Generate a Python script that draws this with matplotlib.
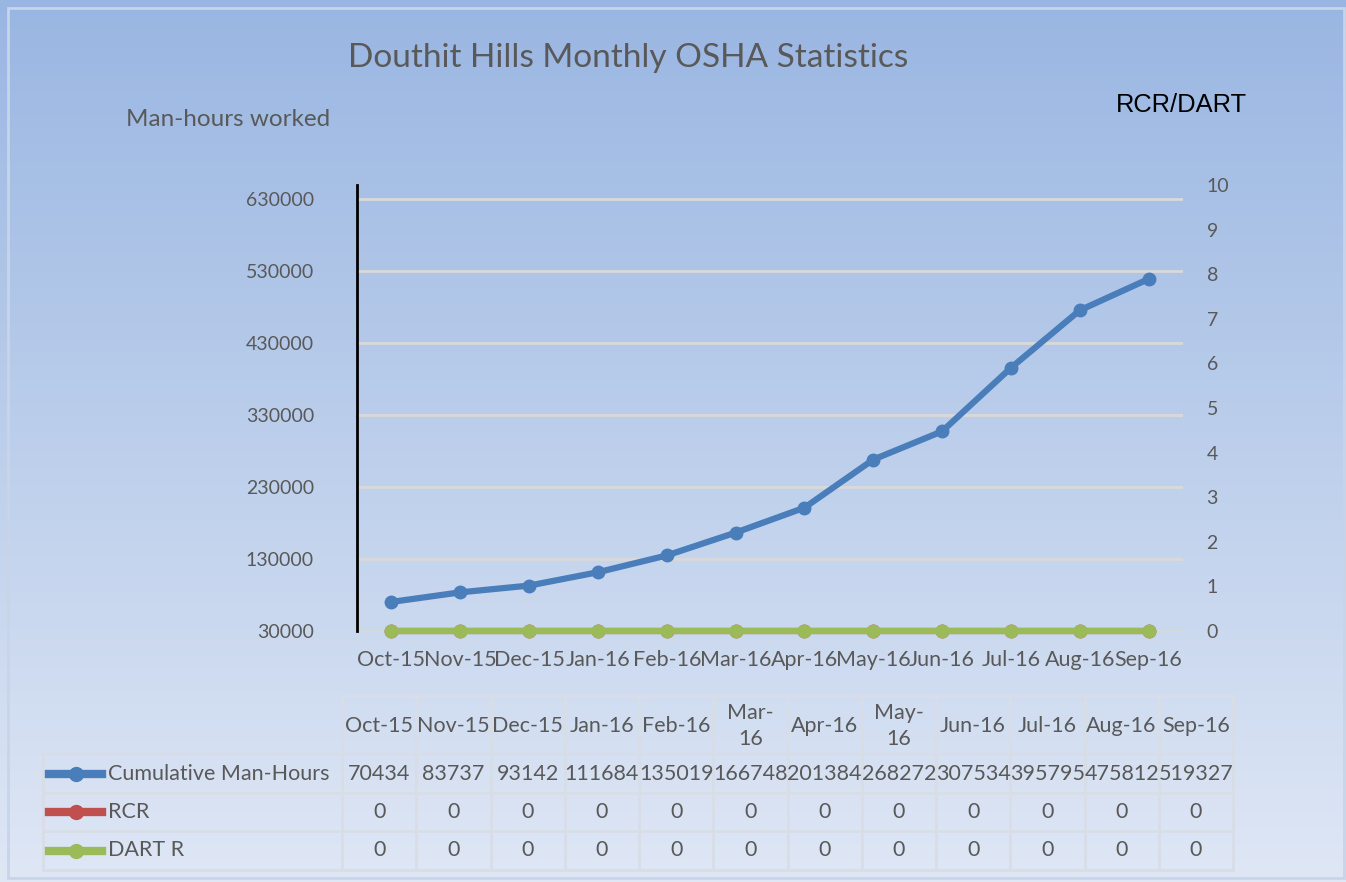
import matplotlib
matplotlib.use("Agg")
import matplotlib.pyplot as plt
import numpy as np
from matplotlib.lines import Line2D
from matplotlib.patches import Rectangle

# ---------------- data ----------------
months = ["Oct-15", "Nov-15", "Dec-15", "Jan-16", "Feb-16", "Mar-16",
          "Apr-16", "May-16", "Jun-16", "Jul-16", "Aug-16", "Sep-16"]
table_headers = ["Oct-15", "Nov-15", "Dec-15", "Jan-16", "Feb-16", "Mar-\n16",
                 "Apr-16", "May-\n16", "Jun-16", "Jul-16", "Aug-16", "Sep-16"]
cumulative = [70434, 83737, 93142, 111684, 135019, 166748,
              201384, 268272, 307534, 395795, 475812, 519327]
rcr = [0, 0, 0, 0, 0, 0, 0, 0, 0, 0, 0, 0]
dart = [0, 0, 0, 0, 0, 0, 0, 0, 0, 0, 0, 0]
series_names = ["Cumulative Man-Hours", "RCR", "DART R"]
left_ticks = [30000, 130000, 230000, 330000, 430000, 530000, 630000]
right_ticks = [0, 1, 2, 3, 4, 5, 6, 7, 8, 9, 10]

BLUE = "#4a7ebb"
RED = "#c0504d"
GREEN = "#9bbb59"
GRAY = "#595959"
FONT = "Lato"

W, H = 1346, 882
fig = plt.figure(figsize=(W / 100, H / 100), dpi=100)

# background gradient
bg = fig.add_axes([0, 0, 1, 1], zorder=-10)
top = np.array([0x99, 0xb6, 0xe2]) / 255
bot = np.array([0xdf, 0xe7, 0xf5]) / 255
t = np.linspace(0, 1, 256)[:, None]
grad = (top[None, :] * (1 - t) + bot[None, :] * t)[:, None, :]
bg.imshow(grad, aspect="auto", extent=[0, 1, 0, 1], origin="upper")
bg.set_xlim(0, 1)
bg.set_ylim(0, 1)
bg.axis("off")


def px(x, y):
    return x / W, 1 - y / H


# ---------------- main chart ----------------
x0, x1, y0, y1 = 357, 1183, 185, 631
ax = fig.add_axes([x0 / W, 1 - y1 / H, (x1 - x0) / W, (y1 - y0) / H])
ax.patch.set_alpha(0)
xs = np.arange(len(months))
ax.set_xlim(-0.5, len(months) - 0.5)
ax.set_ylim(30000, 650000)
ax.set_yticks(left_ticks)
ax.set_yticklabels([str(v) for v in left_ticks], fontsize=14, color=GRAY, family=FONT)
ax.set_xticks(xs)
ax.set_xticklabels(months, fontsize=15.5, color=GRAY, family=FONT)
ax.tick_params(axis="y", length=0, pad=31)
ax.tick_params(axis="x", length=0, pad=14)
ax.grid(axis="y", color="#d9d9d9", lw=2)
ax.set_axisbelow(True)
for s in ["top", "right", "bottom"]:
    ax.spines[s].set_visible(False)
ax.spines["left"].set_color("black")
ax.spines["left"].set_linewidth(2)

ax.plot(xs, cumulative, color=BLUE, lw=4.5, marker="o", ms=9,
        solid_capstyle="round", zorder=5, clip_on=False)

ax2 = ax.twinx()
ax2.set_ylim(0, 10)
ax2.set_yticks(right_ticks)
ax2.set_yticklabels([str(v) for v in right_ticks], fontsize=14, color=GRAY, family=FONT)
ax2.tick_params(axis="y", length=0, pad=17)
for s in ax2.spines.values():
    s.set_visible(False)
ax2.plot(xs, rcr, color=RED, lw=4.5, marker="o", ms=9, zorder=5, clip_on=False)
ax2.plot(xs, dart, color=GREEN, lw=4.5, marker="o", ms=9, zorder=6, clip_on=False)

# ---------------- texts ----------------
fig.text(*px(628, 58), "Douthit Hills Monthly OSHA Statistics", ha="center", va="center",
         fontsize=24, color=GRAY, family=FONT)
fig.text(*px(228, 120), "Man-hours worked", ha="center", va="center",
         fontsize=17.5, color=GRAY, family=FONT)
fig.text(*px(1181, 105), "RCR/DART", ha="center", va="center",
         fontsize=18.4, color="black", family="Liberation Sans")

# ---------------- data table ----------------
ov = fig.add_axes([0, 0, 1, 1], zorder=5)
ov.set_xlim(0, W)
ov.set_ylim(H, 0)
ov.axis("off")

tx0, tx1 = 342, 1233
lx0 = 43
ncol = len(months)
cw = (tx1 - tx0) / ncol
ry = [696, 754, 793, 831, 870]
lc = "#d8dde6"
lw = 2
# header row
ov.plot([tx0, tx1], [ry[0], ry[0]], color=lc, lw=lw)
for i in range(ncol + 1):
    xv = tx0 + i * cw
    ov.plot([xv, xv], [ry[0], ry[-1]], color=lc, lw=lw)
for yv in ry[1:]:
    ov.plot([lx0, tx1], [yv, yv], color=lc, lw=lw)
ov.plot([lx0, lx0], [ry[1], ry[-1]], color=lc, lw=lw)

TFS = 15.5
for i, h in enumerate(table_headers):
    ov.text(tx0 + (i + 0.5) * cw, (ry[0] + ry[1]) / 2 + 1, h, ha="center", va="center",
            fontsize=TFS, color=GRAY, family=FONT, linespacing=1.35)

rows = [cumulative, rcr, dart]
colors = [BLUE, RED, GREEN]
for r, (vals, name, c) in enumerate(zip(rows, series_names, colors)):
    yc = (ry[r + 1] + ry[r + 2]) / 2
    ov.add_line(Line2D([49, 102], [yc, yc], color=c, lw=6, marker=None))
    ov.plot([75.5], [yc], marker="o", ms=10, color=c)
    ov.text(108, yc, name, ha="left", va="center", fontsize=TFS, color=GRAY, family=FONT)
    for i, v in enumerate(vals):
        ov.text(tx0 + (i + 0.5) * cw, yc, str(v), ha="center", va="center",
                fontsize=TFS, color=GRAY, family=FONT)

# chart frame
ov.add_patch(Rectangle((8, 8), W - 10, H - 12, fill=False, ec="#c8d4e8", lw=2))

fig.savefig("out.png", dpi=100)
